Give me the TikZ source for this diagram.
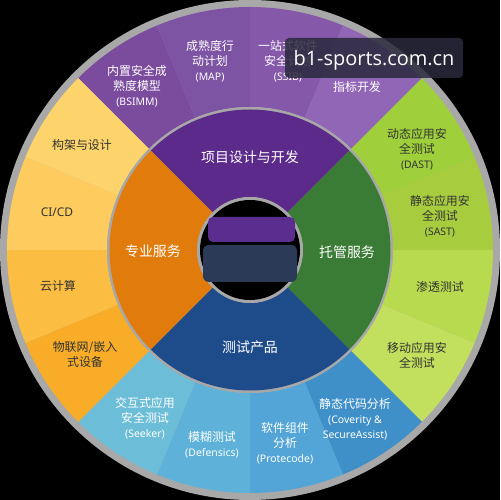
\documentclass[tikz,border=0pt]{standalone}
\usepackage{fontspec}
\setmainfont{Noto Sans CJK SC}
\newfontfamily\latinf{Noto Sans}
\newfontfamily\wmfont{Open Sans}
\definecolor{rimgray}{HTML}{A8A8A8}
\definecolor{sBSIMM}{HTML}{7B4B9E}
\definecolor{sMAP}{HTML}{7D53A3}
\definecolor{sSSIB}{HTML}{8558AA}
\definecolor{sMET}{HTML}{9266B6}
\definecolor{sDAST}{HTML}{9FD03B}
\definecolor{sSAST}{HTML}{A7CD3F}
\definecolor{sPEN}{HTML}{B7DA4E}
\definecolor{sMOB}{HTML}{C3DF5E}
\definecolor{sCOV}{HTML}{3F8FC8}
\definecolor{sPRO}{HTML}{52A5D6}
\definecolor{sDEF}{HTML}{5EB1D8}
\definecolor{sSEE}{HTML}{6CBDD8}
\definecolor{sIOT}{HTML}{F8AC27}
\definecolor{sCLD}{HTML}{FBBE42}
\definecolor{sCI}{HTML}{FECB5F}
\definecolor{sARC}{HTML}{FDD46B}
\definecolor{qPur}{HTML}{5C2A8B}
\definecolor{qGrn}{HTML}{3A7B35}
\definecolor{qBlu}{HTML}{1E4C8B}
\definecolor{qOrg}{HTML}{E07B0C}
\definecolor{darktxt}{HTML}{333333}
\definecolor{logoPur}{HTML}{5B2D8E}
\definecolor{logoNavy}{HTML}{2B3A57}
\definecolor{wmbox}{HTML}{2A2A3C}
\newcommand{\ringseg}[5]{\fill[#5] (#1:#3) arc[start angle=#1,end angle=#2,radius=#3] -- (#2:#4) arc[start angle=#2,end angle=#1,radius=#4] -- cycle;}
\newcommand{\lat}[1]{{\latinf\fontsize{10.5}{15}\selectfont #1}}
\begin{document}
\begin{tikzpicture}[x=1bp,y=1bp,
  lbl/.style={align=center,inner sep=0pt,font=\fontsize{12}{15}\selectfont},
  lblw/.style={lbl,text=white},
  lbld/.style={lbl,text=darktxt},
  qlbl/.style={align=center,inner sep=0pt,text=white,font=\fontsize{14}{17}\selectfont}]
\fill[black] (-250,-250) rectangle (250,250);
\useasboundingbox (-250,-250) rectangle (250,250);
\fill[rimgray] (0,0) circle[radius=250];
% outer ring
\ringseg{112.5}{135}{243}{143}{sBSIMM}
\ringseg{90}{112.5}{243}{143}{sMAP}
\ringseg{67.5}{90}{243}{143}{sSSIB}
\ringseg{45}{67.5}{243}{143}{sMET}
\ringseg{22.5}{45}{243}{143}{sDAST}
\ringseg{0}{22.5}{243}{143}{sSAST}
\ringseg{-22.5}{0}{243}{143}{sPEN}
\ringseg{-45}{-22.5}{243}{143}{sMOB}
\ringseg{-67.5}{-45}{243}{143}{sCOV}
\ringseg{-90}{-67.5}{243}{143}{sPRO}
\ringseg{-112.5}{-90}{243}{143}{sDEF}
\ringseg{-135}{-112.5}{243}{143}{sSEE}
\ringseg{202.5}{225}{243}{143}{sIOT}
\ringseg{180}{202.5}{243}{143}{sCLD}
\ringseg{157.5}{180}{243}{143}{sCI}
\ringseg{135}{157.5}{243}{143}{sARC}
% gray gap ring
\fill[rimgray] (0,0) circle[radius=143];
% inner quadrants
\ringseg{45}{135}{140.5}{53}{qPur}
\ringseg{-45}{45}{140.5}{53}{qGrn}
\ringseg{-135}{-45}{140.5}{53}{qBlu}
\ringseg{135}{225}{140.5}{53}{qOrg}
% center
\fill[rimgray] (0,0) circle[radius=53];
\fill[black] (0,0) circle[radius=50];
\fill[logoPur, rounded corners=5] (-42,8) rectangle (45,33);
\fill[logoNavy, rounded corners=6] (-47,-32) rectangle (47,5);
% outer labels
\node[lblw] (bsimm) at (-113,164) {内置安全成\\熟度模型\\\lat{(BSIMM)}};
\node[lblw] (map) at (-40,189) {成熟度行\\动计划\\\lat{(MAP)}};
\node[lblw] (ssib) at (38,189) {一站式软件\\安全计划\\\lat{(SSIB)}};
\node[lblw] (metric) at (107,163) {指标开发};
\node[lbld] (dast) at (167,101) {动态应用安\\全测试\\\lat{(DAST)}};
\node[lbld] (sast) at (190,34) {静态应用安\\全测试\\\lat{(SAST)}};
\node[lbld] (pen) at (190,-37) {渗透测试};
\node[lbld] (mob) at (167,-105) {移动应用安\\全测试};
\node[lblw] (cov) at (105,-169) {静态代码分析\\\lat{(Coverity \&}\\\lat{SecureAssist)}};
\node[lblw] (pro) at (35,-193) {软件组件\\分析\\\lat{(Protecode)}};
\node[lblw] (def) at (-38,-194.5) {模糊测试\\\lat{(Defensics)}};
\node[lblw] (see) at (-105,-168) {交互式应用\\安全测试\\\lat{(Seeker)}};
\node[lbld] (iot) at (-165,-104.5) {物联网/嵌入\\式设备};
\node[lbld] (cloud) at (-192,-36) {云计算};
\node[lbld, font=\latinf\fontsize{12}{15}\selectfont] (cicd) at (-193,38) {CI/CD};
\node[lbld] (arch) at (-168,105) {构架与设计};
% inner labels
\node[qlbl] (q1) at (0,93) {项目设计与开发};
\node[qlbl] (q2) at (-97,-1) {专业服务};
\node[qlbl] (q3) at (97,-2) {托管服务};
\node[qlbl] (q4) at (0,-97) {测试产品};
% watermark
\fill[wmbox, fill opacity=0.85, rounded corners=4] (35,212) rectangle (213,172);
\node[text=white, inner sep=0pt, font=\wmfont\fontsize{20}{24}\selectfont] (wm) at (124,190) {b1-sports.com.cn};
\end{tikzpicture}
\end{document}
